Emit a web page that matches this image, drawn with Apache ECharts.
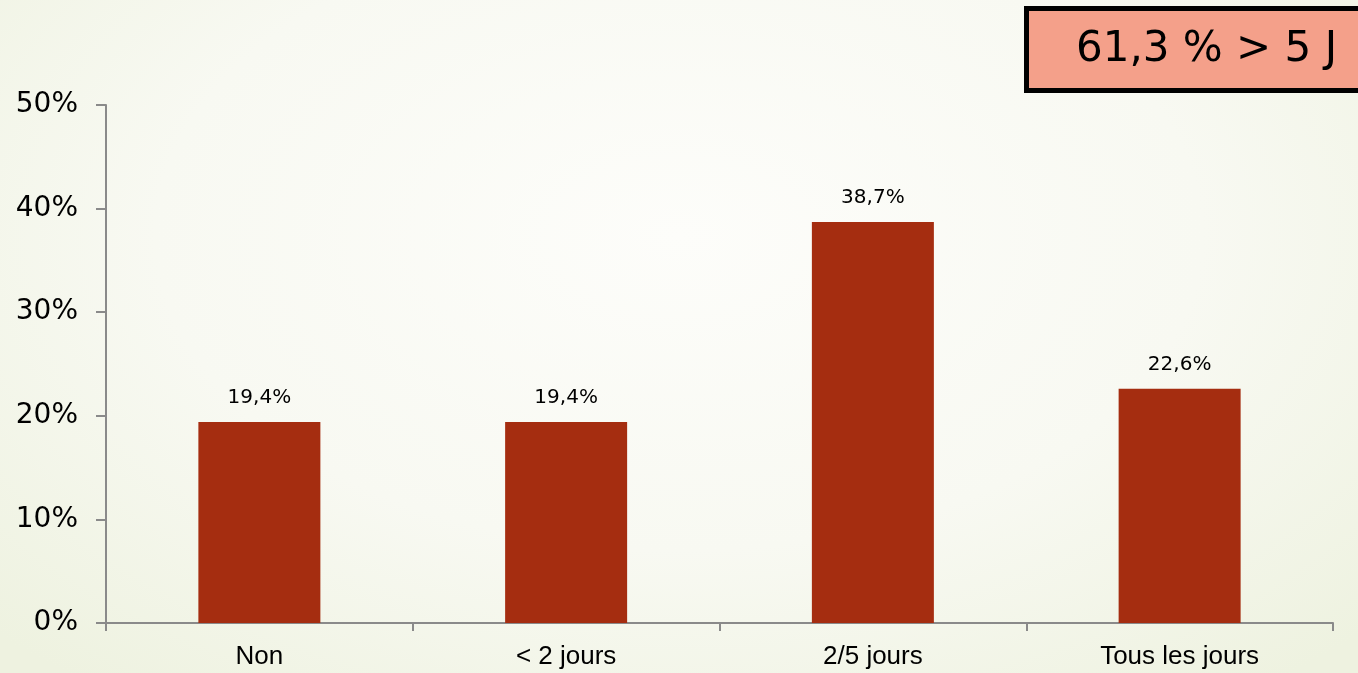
<!DOCTYPE html>
<html>
<head>
<meta charset="utf-8">
<script src="https://cdn.jsdelivr.net/npm/echarts@6/dist/echarts.min.js"></script>
<style>
  html, body { margin: 0; padding: 0; }
  body {
    width: 1358px; height: 673px; overflow: hidden;
    background: radial-gradient(ellipse 70% 85% at 50% 35%, #fdfdfa 0%, #f8f9f2 55%, #eef2e0 100%);
  }
  #chart { width: 1358px; height: 673px; }
</style>
</head>
<body>
<div id="chart"></div>
<script>
// categories and values
const categories = ['Non', '< 2 jours', '2/5 jours', 'Tous les jours'];
const values = [19.4, 19.4, 38.7, 22.6];
const calloutText = '61,3 % > 5 J';

const chart = echarts.init(document.getElementById('chart'));

const fmtPct = (v) => String(v).replace('.', ',') + '%';

chart.setOption({
  animation: false,
  grid: { left: 106, right: 25, top: 105, bottom: 50 },
  xAxis: {
    type: 'category',
    data: categories,
    axisLine: { lineStyle: { color: '#8a8a8a', width: 2 } },
    axisTick: { show: true, length: 8, lineStyle: { color: '#8a8a8a', width: 2 } },
    axisLabel: { color: '#000', fontFamily: 'Liberation Sans', fontSize: 26, margin: 21 }
  },
  yAxis: {
    type: 'value',
    min: 0, max: 50, interval: 10,
    splitLine: { show: false },
    axisLine: { show: true, lineStyle: { color: '#8a8a8a', width: 2 } },
    axisTick: { show: true, length: 10, lineStyle: { color: '#8a8a8a', width: 2 } },
    axisLabel: {
      color: '#000', fontFamily: 'DejaVu Sans', fontSize: 28, margin: 28,
      padding: [10, 0, 0, 0],
      formatter: (v) => v + '%'
    }
  },
  series: [{
    type: 'bar',
    data: values,
    barWidth: 122,
    itemStyle: { color: '#A52D10' },
    label: {
      show: true, position: 'top', distance: 14,
      color: '#000', fontFamily: 'DejaVu Sans', fontSize: 20,
      formatter: (p) => fmtPct(p.value)
    }
  }],
  graphic: [{
    type: 'group',
    left: 1024, top: 6,
    children: [{
      type: 'rect',
      shape: { x: 0, y: 0, width: 345, height: 82 },
      style: { fill: '#F4A08A', stroke: '#000', lineWidth: 5 }
    }, {
      type: 'text',
      x: 180, y: 42,
      style: {
        text: calloutText, fill: '#000', fontFamily: 'DejaVu Sans', fontSize: 42,
        align: 'center', verticalAlign: 'middle'
      }
    }]
  }]
});
</script>
</body>
</html>
